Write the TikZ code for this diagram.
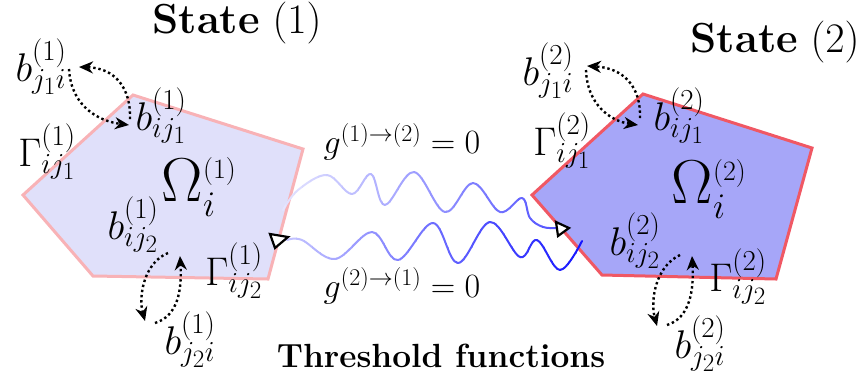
\documentclass[tikz,border=0pt]{standalone}
\usepackage{fix-cm}
\usetikzlibrary{arrows.meta}
\DeclareMathSizes{40}{40}{29}{25}
\DeclareMathSizes{62}{62}{28}{24}
\DeclareMathSizes{34}{34}{24}{18}
\definecolor{fillA}{RGB}{224,224,250}
\definecolor{edgeA}{RGB}{248,178,182}
\definecolor{fillB}{RGB}{166,166,248}
\definecolor{edgeB}{RGB}{240,88,100}
\newcommand{\bigsub}[1]{\mbox{\fontsize{36}{40}\selectfont$#1$}}
\tikzset{
  lbl/.style={inner sep=0pt, font=\fontsize{40}{46}\selectfont},
  biglbl/.style={inner sep=0pt, font=\fontsize{62}{68}\selectfont},
  glbl/.style={inner sep=0pt, font=\fontsize{34}{40}\selectfont},
  titlelbl/.style={inner sep=0pt, font=\fontsize{42}{48}\selectfont},
  bottomlbl/.style={inner sep=0pt, font=\fontsize{33.5}{40}\selectfont\bfseries},
  polyA/.style={draw=edgeA, fill=fillA, line width=3pt, line join=miter},
  polyB/.style={draw=edgeB, fill=fillB, line width=3pt, line join=miter},
  dotarrow/.style={line width=2.4pt, dash pattern=on 2.4pt off 2.8pt, -{Stealth[length=14pt,width=12pt,inset=4.5pt]}},
  wave/.style={line width=2pt, line cap=round, line join=round},
  opentri/.style={draw=black, fill=white, line width=2.2pt, line join=miter}
}
\begin{document}
\begin{tikzpicture}[x=1pt,y=-1pt]
\useasboundingbox (0,0) rectangle (861,376);
% polygons
\draw[polyA] (133,95) -- (303,149) -- (268,279) -- (93,276) -- (23,195) -- cycle;
\draw[polyB] (643,94) -- (812,148) -- (776,279) -- (602,275) -- (532,195) -- cycle;
% coordinates for wave connectors
\coordinate (t1) at (283,210);
\coordinate (t2) at (557,228);
\coordinate (u1) at (287,240);
\coordinate (u2) at (582,241);
% top wave (state 1 -> state 2)
\foreach \i in {0,...,37} {
  \pgfmathsetmacro\xa{278+8*\i}
  \pgfmathsetmacro\p{10+62*\i/37}
  \begin{scope}
    \clip (\xa,150) rectangle (\xa+8.6,300);
    \draw[wave, blue!\p!white] plot[smooth, tension=0.6] coordinates {
      (t1) (298,190) (327,175) (352,194) (371,174) (385,205) (414,172)
      (445,212) (473,183) (500,212) (522,198) (530,218) (543,227) (t2)};
  \end{scope}
}
% bottom wave (state 2 -> state 1)
\foreach \i in {0,...,39} {
  \pgfmathsetmacro\xa{280+8*\i}
  \pgfmathsetmacro\p{22+73*\i/39}
  \begin{scope}
    \clip (\xa,150) rectangle (\xa+8.6,300);
    \draw[wave, blue!\p!white] plot[smooth, tension=0.6] coordinates {
      (u1) (302,240) (335,259) (372,232) (398,260) (433,223) (458,263)
      (490,222) (520,257) (537,240) (560,270) (u2)};
  \end{scope}
}
% open triangle heads
\draw[opentri] (556,222) -- (569,228) -- (558,236) -- cycle;
\draw[opentri] (270,234) -- (288,237) -- (275,248) -- cycle;
% titles
\node[titlelbl] (st1) at (237,23) {\textbf{State} $(1)$};
\node[titlelbl] (st2) at (775,42) {\textbf{State} $(2)$};
\node[bottomlbl] (thr) at (441,356) {Threshold functions};
% state 1 labels
\node[lbl] (bjAi1) at (41,67) {$b^{(1)}_{j_1i}$};
\node[lbl] (biA1) at (161,116) {$b^{(1)}_{ij_1}$};
\node[lbl] (GA1) at (47,152) {$\Gamma^{(1)}_{ij_1}$};
\node[biglbl] (Om1) at (199,187) {$\Omega^{(1)}_{\bigsub{i}}$};
\node[lbl] (biB1) at (133,225) {$b^{(1)}_{ij_2}$};
\node[lbl] (GB1) at (234,271) {$\Gamma^{(1)}_{ij_2}$};
\node[lbl] (bjBi1) at (190,340) {$b^{(1)}_{j_2i}$};
% state 2 labels
\node[lbl] (bjAi2) at (548,71) {$b^{(2)}_{j_1i}$};
\node[lbl] (biA2) at (679,116) {$b^{(2)}_{ij_1}$};
\node[lbl] (GA2) at (562,141) {$\Gamma^{(2)}_{ij_1}$};
\node[biglbl] (Om2) at (709,189) {$\Omega^{(2)}_{\bigsub{i}}$};
\node[lbl] (biB2) at (635,241) {$b^{(2)}_{ij_2}$};
\node[lbl] (GB2) at (738,277) {$\Gamma^{(2)}_{ij_2}$};
\node[lbl] (bjBi2) at (700,344) {$b^{(2)}_{j_2i}$};
% threshold labels
\node[glbl] (g12) at (402,142) {$g^{(1)\rightarrow(2)}=0$};
\node[glbl] (g21) at (402,286) {$g^{(2)\rightarrow(1)}=0$};
% dotted exchange arrows, state 1
\coordinate (a1s) at (69,69);  \coordinate (a1e) at (129,125);
\coordinate (a2s) at (130,119); \coordinate (a2e) at (79,67);
\draw[dotarrow] (a1s) .. controls (71,106) and (98,121) .. (a1e);
\draw[dotarrow] (a2s) .. controls (131,88) and (115,68) .. (a2e);
\coordinate (c1s) at (168,253); \coordinate (c1e) at (145,321);
\coordinate (c2s) at (155,323); \coordinate (c2e) at (180,256);
\draw[dotarrow] (c1s) .. controls (145,262) and (138,295) .. (c1e);
\draw[dotarrow] (c2s) .. controls (178,316) and (182,290) .. (c2e);
% dotted exchange arrows, state 2
\coordinate (a3s) at (586,70);  \coordinate (a3e) at (638,125);
\coordinate (a4s) at (640,118); \coordinate (a4e) at (587,66);
\draw[dotarrow] (a3s) .. controls (587,104) and (610,121) .. (a3e);
\draw[dotarrow] (a4s) .. controls (641,86) and (623,68) .. (a4e);
\coordinate (c3s) at (680,255); \coordinate (c3e) at (657,326);
\coordinate (c4s) at (667,325); \coordinate (c4e) at (692,256);
\draw[dotarrow] (c3s) .. controls (656,266) and (650,300) .. (c3e);
\draw[dotarrow] (c4s) .. controls (690,318) and (694,290) .. (c4e);
\end{tikzpicture}
\end{document}
